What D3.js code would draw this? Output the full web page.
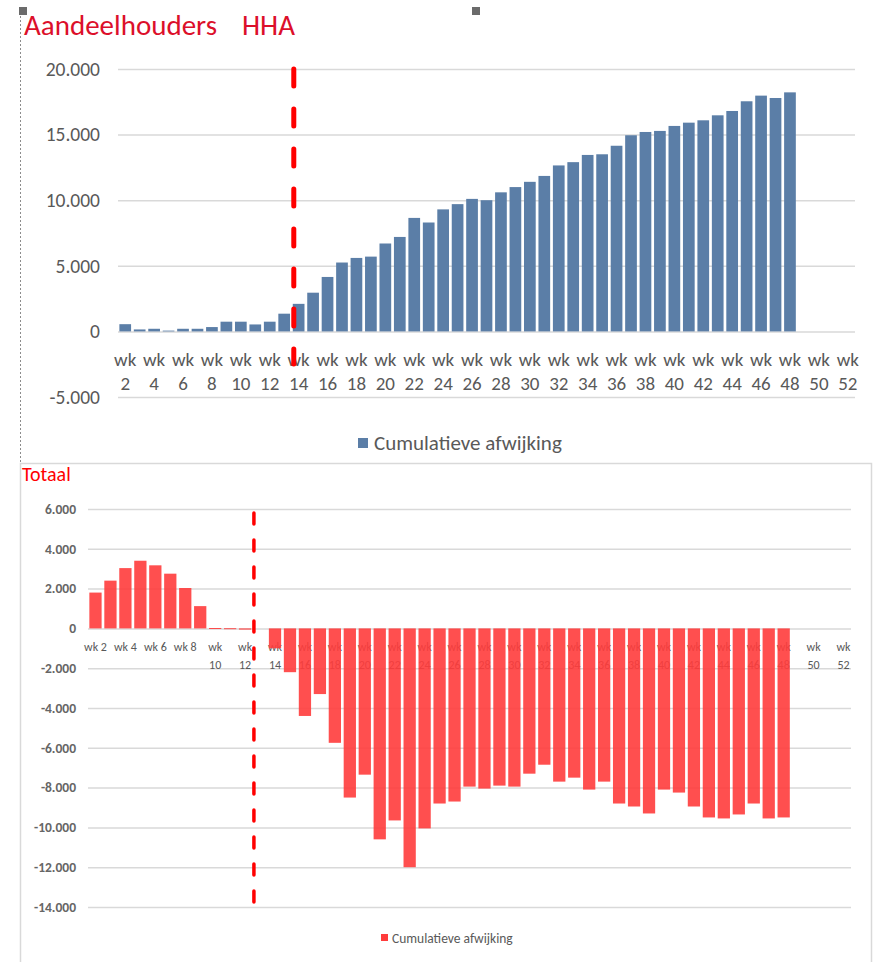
<!DOCTYPE html>
<html>
<head>
<meta charset="utf-8">
<script src="https://cdn.jsdelivr.net/npm/d3@7"></script>
<style>
  body { margin: 0; background: #fff; }
  svg { display: block; font-family: Carlito, Lato, sans-serif; }
</style>
</head>
<body>
<div id="chart"></div>
<script>
// weeks on the category axis (wk 2 .. wk 52)
const weeks = [2, 3, 4, 5, 6, 7, 8, 9, 10, 11, 12, 13, 14, 15, 16, 17, 18, 19, 20, 21,
  22, 23, 24, 25, 26, 27, 28, 29, 30, 31, 32, 33, 34, 35, 36, 37, 38, 39, 40, 41,
  42, 43, 44, 45, 46, 47, 48, 49, 50, 51, 52];

// Aandeelhouders HHA - cumulatieve afwijking
const shareholders = [550, 150, 200, 60, 200, 200, 330, 740, 740, 530, 740, 1350,
  2100, 2950, 4150, 5250, 5600, 5700, 6700, 7200, 8650, 8300,
  9300, 9700, 10100, 10000, 10600, 11000, 11400, 11850, 12650, 12900,
  13450, 13500, 14150, 14950, 15200, 15280, 15660, 15910, 16090, 16470,
  16800, 17540, 17970, 17790, 18220, null, null, null, null];

// Totaal - cumulatieve afwijking
const totals = [1800, 2400, 3030, 3400, 3170, 2750, 2030, 1120, 20, 10, -60, 0,
  -1000, -2200, -4400, -3300, -5750, -8500, -7350, -10600, -9650, -12000,
  -10050, -8800, -8700, -7950, -8050, -7900, -7950, -7300, -6850, -7700,
  -7500, -8100, -7700, -8800, -8950, -9300, -8100, -8250, -8950, -9500,
  -9550, -9350, -8800, -9550, -9500, null, null, null, null];

const topTicks = [20000, 15000, 10000, 5000, 0, -5000];
const bottomTicks = [6000, 4000, 2000, 0, -2000, -4000, -6000, -8000, -10000, -12000, -14000];

const topMarker = 14;     // red dashed line, top chart
const bottomMarker = 13;  // red dashed line, bottom chart
const legendLabel = "Cumulatieve afwijking";

const nl = d3.formatLocale({decimal: ",", thousands: ".", grouping: [3], currency: ["€", ""], minus: "-"});
const fmt = nl.format(",d");
const labels = weeks.map(w => "wk " + w);

const svg = d3.select("#chart").append("svg")
  .attr("width", 877)
  .attr("height", 962);

// selection marks of the pasted picture
svg.append("rect").attr("x", 19).attr("y", 7).attr("width", 8).attr("height", 8).attr("fill", "#6b6b6b");
svg.append("rect").attr("x", 472).attr("y", 7).attr("width", 8).attr("height", 8).attr("fill", "#6b6b6b");
svg.append("line")
  .attr("x1", 20.5).attr("x2", 20.5).attr("y1", 16).attr("y2", 462)
  .attr("stroke", "#8c8c8c").attr("stroke-width", 1).attr("stroke-dasharray", "2 2");

// ---------- top chart ----------
const topBox = {left: 118, right: 855, y20: 69, yMin: 397};

const x1 = d3.scaleBand().domain(labels).range([topBox.left, topBox.right])
  .paddingInner(0.19).paddingOuter(0.095);
const y1 = d3.scaleLinear().domain([-5000, 20000]).range([topBox.yMin, topBox.y20]);

const title = svg.append("text")
  .attr("x", 24).attr("y", 35)
  .attr("fill", "#dc0f2a")
  .style("font-size", "29px");
title.append("tspan").text("Aandeelhouders");
title.append("tspan").attr("x", 242).text("HHA");

const g1 = svg.append("g");

g1.append("g")
  .attr("transform", `translate(${topBox.left},0)`)
  .call(d3.axisLeft(y1).tickValues(topTicks).tickFormat(fmt)
    .tickSizeInner(-(topBox.right - topBox.left)).tickSizeOuter(0).tickPadding(18))
  .call(g => g.select(".domain").remove())
  .call(g => g.selectAll("line").attr("stroke", "#d9d9d9").attr("stroke-width", 1.5))
  .call(g => g.selectAll("text").attr("fill", "#595959").style("font-size", "19.5px")
    .style("font-family", "Carlito, Lato, sans-serif"));

const lab1 = g1.append("g").selectAll("text")
  .data(weeks.filter(w => w % 2 === 0))
  .join("text")
  .attr("text-anchor", "middle")
  .attr("fill", "#595959")
  .style("font-size", "19px")
  .attr("transform", d => `translate(${x1("wk " + d) + x1.bandwidth() / 2},0)`);
lab1.append("tspan").attr("x", 0).attr("y", 366).text("wk");
lab1.append("tspan").attr("x", 0).attr("y", 390).text(d => d);

g1.append("g").selectAll("rect")
  .data(weeks.map((w, i) => ({w, v: shareholders[i]})).filter(d => d.v !== null))
  .join("rect")
  .attr("x", d => x1("wk " + d.w))
  .attr("width", x1.bandwidth())
  .attr("y", d => y1(Math.max(0, d.v)))
  .attr("height", d => Math.abs(y1(d.v) - y1(0)))
  .attr("fill", "#5b7ea7");

const m1 = x1("wk " + topMarker) + 1;
g1.append("line")
  .attr("x1", m1).attr("x2", m1)
  .attr("y1", 69).attr("y2", 364)
  .attr("stroke", "#ff0000").attr("stroke-width", 5)
  .attr("stroke-linecap", "round").attr("stroke-dasharray", "17 23");

const leg1 = g1.append("g").attr("transform", "translate(358,443)");
leg1.append("rect").attr("x", 0).attr("y", -5).attr("width", 10).attr("height", 10).attr("fill", "#5b7ea7");
leg1.append("text").attr("x", 16).attr("y", 0).attr("dy", "0.35em")
  .attr("fill", "#595959").style("font-size", "21px").text(legendLabel);

// ---------- bottom chart ----------
svg.append("rect")
  .attr("x", 20.5).attr("y", 463.5).attr("width", 851).attr("height", 520)
  .attr("fill", "none").attr("stroke", "#d9d9d9").attr("stroke-width", 1.5);

const botBox = {left: 88, right: 851, y6: 509, yMin: 907};

const x2 = d3.scaleBand().domain(labels).range([botBox.left, botBox.right])
  .paddingInner(0.18).paddingOuter(0.09);
const y2 = d3.scaleLinear().domain([-14000, 6000]).range([botBox.yMin, botBox.y6]);

svg.append("text")
  .attr("x", 22).attr("y", 481)
  .attr("fill", "#ff0000")
  .style("font-size", "20px")
  .text("Totaal");

const g2 = svg.append("g");

g2.append("g")
  .attr("transform", `translate(${botBox.left},0)`)
  .call(d3.axisLeft(y2).tickValues(bottomTicks).tickFormat(fmt)
    .tickSizeInner(-(botBox.right - botBox.left)).tickSizeOuter(0).tickPadding(12))
  .call(g => g.select(".domain").remove())
  .call(g => g.selectAll("line").attr("stroke", "#d9d9d9").attr("stroke-width", 1.5))
  .call(g => g.selectAll("text").attr("fill", "#666").style("font-size", "13.5px")
    .style("font-weight", "bold").style("font-family", "Carlito, Lato, sans-serif"));

const lab2 = g2.append("g").selectAll("text")
  .data(weeks.filter(w => w % 2 === 0))
  .join("text")
  .attr("text-anchor", "middle")
  .attr("fill", "#595959")
  .style("font-size", "12px")
  .attr("transform", d => `translate(${x2("wk " + d) + x2.bandwidth() / 2},0)`);
lab2.filter(d => d < 10).append("tspan").attr("x", 0).attr("y", 651).text(d => "wk " + d);
lab2.filter(d => d >= 10).append("tspan").attr("x", 0).attr("y", 651).text("wk");
lab2.filter(d => d >= 10).append("tspan").attr("x", 0).attr("y", 669).text(d => d);

g2.append("g").selectAll("rect")
  .data(weeks.map((w, i) => ({w, v: totals[i]})).filter(d => d.v !== null))
  .join("rect")
  .attr("x", d => x2("wk " + d.w))
  .attr("width", x2.bandwidth())
  .attr("y", d => y2(Math.max(0, d.v)))
  .attr("height", d => Math.max(1, Math.abs(y2(d.v) - y2(0))))
  .attr("fill", "#ff3c3c")
  .attr("fill-opacity", d => d.v === 0 ? 0 : 0.9);

const m2 = x2("wk " + bottomMarker);
g2.append("line")
  .attr("x1", m2).attr("x2", m2)
  .attr("y1", 513).attr("y2", 902)
  .attr("stroke", "#ff0000").attr("stroke-width", 3.5)
  .attr("stroke-linecap", "round").attr("stroke-dasharray", "11 16");

const leg2 = g2.append("g").attr("transform", "translate(381,938)");
leg2.append("rect").attr("x", 0).attr("y", -4).attr("width", 7).attr("height", 7).attr("fill", "#ff3c3c");
leg2.append("text").attr("x", 11).attr("y", 0).attr("dy", "0.35em")
  .attr("fill", "#595959").style("font-size", "13.5px").text(legendLabel);
</script>
</body>
</html>
